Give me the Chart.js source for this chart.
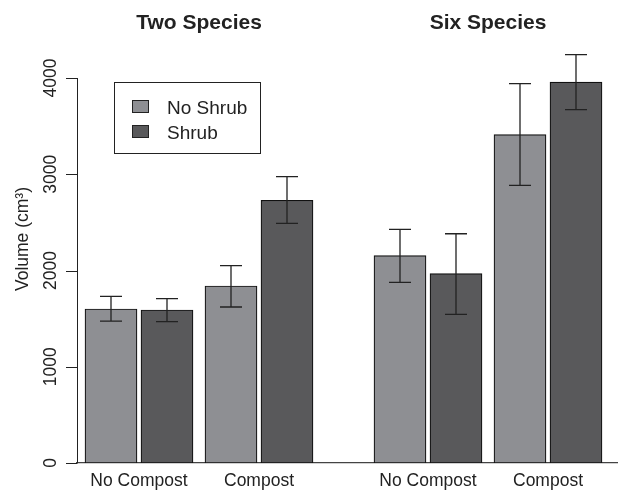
<!DOCTYPE html>
<html>
<head>
    <title>Volume by species, compost and shrub</title>
    <script src="https://cdn.jsdelivr.net/npm/chart.js"></script>
    <style>
        body { margin: 0; background: #fff; }
        #wrap { width: 618px; height: 492px; }
    </style>
</head>
<body>
    <div id="wrap"><canvas id="volumeChart"></canvas></div>

    <script>
        // values
        const speciesLabels = ['Two Species', 'Six Species'];
        const compostLabels = ['No Compost', 'Compost'];
        const seriesLabels = ['No Shrub', 'Shrub'];
        const yTicks = [0, 1000, 2000, 3000, 4000];

        // order: two/no compost, two/compost, six/no compost, six/compost
        const noShrubMean = [1600, 1839, 2154, 3411];
        const noShrubLow = [1475, 1621, 1877, 2885];
        const noShrubHigh = [1732, 2050, 2428, 3941];

        const shrubMean = [1590, 2729, 1967, 3958];
        const shrubLow = [1468, 2490, 1545, 3671];
        const shrubHigh = [1707, 2975, 2382, 4242];

        const FONT = '"Liberation Sans", Arial, sans-serif';
        const LIGHT = '#8e8f93';
        const DARK = '#59595b';
        const INK = '#222';

        // horizontal layout, in pixels along the x scale
        function groupCenter(i) {
            const s = Math.floor(i / 2), c = i % 2;
            return 62 + s * 289 + c * 120;
        }
        function barX(i, shrub) {
            return groupCenter(i) + (shrub ? 28 : -28);
        }

        function points(values, shrub) {
            return values.map((v, i) => ({ x: barX(i, shrub), y: v }));
        }

        const errorBars = {
            id: 'errorBars',
            afterDatasetsDraw(chart) {
                const ctx = chart.ctx, xs = chart.scales.x, ys = chart.scales.y;
                const sets = [[noShrubLow, noShrubHigh, 0], [shrubLow, shrubHigh, 1]];
                ctx.save();
                ctx.strokeStyle = INK;
                ctx.lineWidth = 1.3;
                sets.forEach(([lo, hi, sh]) => {
                    lo.forEach((l, i) => {
                        const x = xs.getPixelForValue(barX(i, sh));
                        const y1 = ys.getPixelForValue(l), y2 = ys.getPixelForValue(hi[i]);
                        ctx.beginPath();
                        ctx.moveTo(x, y1); ctx.lineTo(x, y2);
                        ctx.moveTo(x - 11, y1); ctx.lineTo(x + 11, y1);
                        ctx.moveTo(x - 11, y2); ctx.lineTo(x + 11, y2);
                        ctx.stroke();
                    });
                });
                ctx.restore();
            }
        };

        const decorations = {
            id: 'decorations',
            afterDraw(chart) {
                const ctx = chart.ctx, xs = chart.scales.x, ys = chart.scales.y;
                ctx.save();

                // y axis, R style: line from first to last tick, rotated labels
                const ax = chart.chartArea.left;
                ctx.strokeStyle = INK;
                ctx.lineWidth = 1;
                ctx.beginPath();
                ctx.moveTo(ax + 0.5, ys.getPixelForValue(yTicks[0]));
                ctx.lineTo(ax + 0.5, ys.getPixelForValue(yTicks[yTicks.length - 1]));
                yTicks.forEach(t => {
                    const y = Math.round(ys.getPixelForValue(t)) + 0.5;
                    ctx.moveTo(ax + 0.5, y); ctx.lineTo(ax - 11, y);
                });
                ctx.stroke();

                ctx.fillStyle = INK;
                ctx.font = '17.5px ' + FONT;
                ctx.textAlign = 'center';
                ctx.textBaseline = 'alphabetic';
                yTicks.forEach(t => {
                    ctx.save();
                    ctx.translate(56, ys.getPixelForValue(t));
                    ctx.rotate(-Math.PI / 2);
                    ctx.fillText(String(t), 0, 0);
                    ctx.restore();
                });

                // y title
                ctx.save();
                ctx.translate(28, 239);
                ctx.rotate(-Math.PI / 2);
                ctx.fillText('Volume (cm\u00B3)', 0, 0);
                ctx.restore();

                // panel titles
                ctx.font = 'bold 21px ' + FONT;
                speciesLabels.forEach((name, s) => {
                    const a = xs.getPixelForValue(barX(s * 2, 0));
                    const b = xs.getPixelForValue(barX(s * 2 + 1, 1));
                    ctx.fillText(name, (a + b) / 2, 29);
                });

                // legend
                ctx.lineWidth = 1;
                ctx.strokeStyle = INK;
                ctx.strokeRect(114.5, 82.5, 146, 71);
                ctx.font = '19px ' + FONT;
                ctx.textAlign = 'left';
                [LIGHT, DARK].forEach((col, k) => {
                    const y = 100 + k * 25;
                    ctx.fillStyle = col;
                    ctx.fillRect(132.5, y + 0.5, 16, 12);
                    ctx.strokeRect(132.5, y + 0.5, 16, 12);
                    ctx.fillStyle = INK;
                    ctx.fillText(seriesLabels[k], 167, y + 13.5);
                });

                ctx.restore();
            }
        };

        new Chart(document.getElementById('volumeChart'), {
            type: 'bar',
            data: {
                datasets: [
                    {
                        label: seriesLabels[0],
                        data: points(noShrubMean, 0),
                        backgroundColor: LIGHT,
                        borderColor: '#111',
                        borderWidth: 1.2,
                        borderSkipped: false
                    },
                    {
                        label: seriesLabels[1],
                        data: points(shrubMean, 1),
                        backgroundColor: DARK,
                        borderColor: '#111',
                        borderWidth: 1.2,
                        borderSkipped: false
                    }
                ]
            },
            options: {
                responsive: true,
                maintainAspectRatio: false,
                animation: false,
                grouped: false,
                barThickness: 52,
                layout: { padding: { top: 39.5, left: 0, right: 0, bottom: 0 } },
                plugins: {
                    legend: { display: false },
                    tooltip: { enabled: false }
                },
                scales: {
                    x: {
                        type: 'linear',
                        min: 0,
                        max: 541,
                        offset: false,
                        grid: { display: false, drawTicks: false },
                        border: { display: true, color: '#444', width: 1.2 },
                        afterBuildTicks: axis => {
                            axis.ticks = [0, 1, 2, 3].map(i => ({ value: groupCenter(i) }));
                        },
                        ticks: {
                            autoSkip: false,
                            maxRotation: 0,
                            padding: 8,
                            color: INK,
                            font: { family: FONT, size: 17.5 },
                            callback: (v, i) => compostLabels[i % 2]
                        },
                        afterFit: scale => { scale.height = 29; }
                    },
                    y: {
                        min: 0,
                        max: 4400,
                        grid: { display: false },
                        border: { display: false },
                        ticks: { display: false },
                        afterFit: scale => { scale.width = 77; }
                    }
                }
            },
            plugins: [errorBars, decorations]
        });
    </script>
</body>
</html>
